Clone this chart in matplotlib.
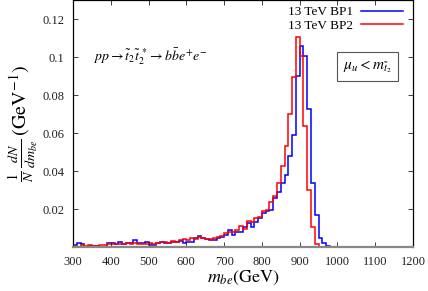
import numpy as np
import matplotlib
matplotlib.use("Agg")
import matplotlib.pyplot as plt

plt.rcParams['font.family'] = ['Liberation Serif', 'DejaVu Serif']
plt.rcParams['mathtext.fontset'] = 'stix'

# bin edges (GeV)
bin_start = 300
bin_stop = 1050
bin_width = 10

bp1 = [
    # 300-650
    .0013, .0022, .0018, .0004, .0010, .0010, .0010, .0004, .0004, .0022,
    .0022, .0017, .0027, .0018, .0022, .0022, .0039, .0025, .0022, .0031,
    .0013, .0013, .0022, .0031, .0025, .0022, .0029, .0031, .0034, .0025,
    .0031, .0031, .0048, .0060, .0052, .0043,
    # 660-950
    .0040, .0038, .0048, .0054, .0066, .0092, .0066, .0080, .0083, .0110,
    .0130, .0110, .0136, .0154, .0180, .0190, .0197, .0260, .0290, .0340,
    .0380, .0480, .0590, .0900, .1060, .1010, .0730, .0340, .0170, .0048,
    # 960-1040
    .0022, .0006, .0003, 0.0, .0005, 0.0, 0.0, .0004, 0.0,
]

bp2 = [
    # 300-650
    .0008, .0004, .0013, .0010, .0011, .0006, .0010, .0013, .0011, .0017,
    .0017, .0018, .0020, .0018, .0022, .0018, .0022, .0020, .0017, .0020,
    .0022, .0018, .0025, .0027, .0029, .0025, .0032, .0029, .0039, .0043,
    .0039, .0048, .0046, .0053, .0050, .0046,
    # 660-950
    .0043, .0050, .0055, .0062, .0074, .0083, .0083, .0092, .0113, .0097,
    .0139, .0136, .0154, .0162, .0192, .0197, .0240, .0270, .0340, .0430,
    .0535, .0700, .0896, .1110, .1007, .0640, .0300, .0110, .0017, .0005,
    # 960-1040
    .0003, 0.0, 0.0, 0.0, 0.0, 0.0, .0003, 0.0, 0.0,
]

labels = ["13 TeV BP1", "13 TeV BP2"]
xticks = [300, 400, 500, 600, 700, 800, 900, 1000, 1100, 1200]
yticks = [0.02, 0.04, 0.06, 0.08, 0.1, 0.12]
ytick_labels = ["0.02", "0.04", "0.06", "0.08", "0.1", "0.12"]

edges = np.arange(bin_start, bin_stop + bin_width / 2, bin_width)

fig = plt.figure(figsize=(4.28, 2.91), dpi=100)
ax = fig.add_axes([0.1706, 0.1495, 0.7944, 0.849])

ax.stairs(bp1, edges, color='#0000ff', lw=1.1, label=labels[0], baseline=None)
ax.stairs(bp2, edges, color='#ff0000', lw=1.1, label=labels[1], baseline=None)

ax.set_xlim(300, 1200)
ax.set_ylim(0, 0.13)
ax.set_xticks(xticks)
ax.set_xticklabels([str(t) for t in xticks])
ax.set_yticks(yticks)
ax.set_yticklabels(ytick_labels)
ax.tick_params(direction='in', top=True, right=True, length=3.5, width=0.6,
               labelsize=9, pad=6, colors='#222222')
for s in ax.spines.values():
    s.set_linewidth(0.9)
ax.spines['bottom'].set_color('#888888')
ax.spines['bottom'].set_linewidth(1.6)

ax.set_xlabel(r'$m_{be}(\mathrm{GeV})$', fontsize=13, labelpad=1)
ax.set_ylabel(r'$\frac{1}{N}\,\frac{dN}{dm_{be}}\,(\mathrm{GeV}^{-1})$', fontsize=14.5, labelpad=2)

ax.text(0.058, 0.77, r'$pp \to \tilde{t}_2\tilde{t}_2^{\,*} \to b\bar{b}e^{+}e^{-}$',
        transform=ax.transAxes, fontsize=10, va='center', ha='left')
ax.text(0.866, 0.731, r'$\mu_u < m_{\tilde{t}_2}$', transform=ax.transAxes,
        fontsize=11, va='center', ha='center',
        bbox=dict(boxstyle='square,pad=0.4', fc='white', ec='#555555', lw=0.8))

leg = ax.legend(loc='upper right', bbox_to_anchor=(0.995, 1.01), frameon=False,
                markerfirst=False, fontsize=9.5, handlelength=3.2,
                handletextpad=0.6, labelspacing=0.1, borderaxespad=0.2)

fig.savefig('out.png', dpi=100)
